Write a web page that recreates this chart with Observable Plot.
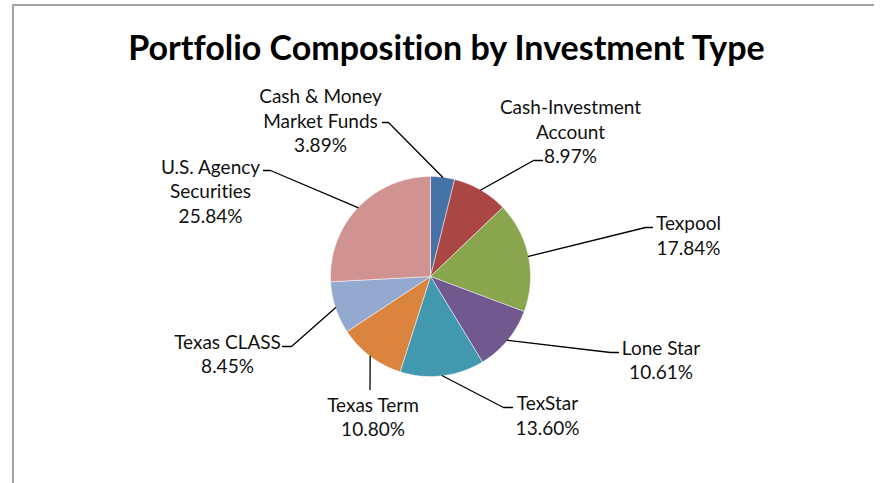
<!DOCTYPE html>
<html><head><meta charset="utf-8">
<script src="https://cdn.jsdelivr.net/npm/d3@7"></script>
<script src="https://cdn.jsdelivr.net/npm/@observablehq/plot@0.6"></script>
<style>
body{margin:0;background:#fff}
#wrap{position:relative;width:881px;height:483px;overflow:hidden;background:#fff}
#frame{position:absolute;left:12px;top:4px;width:860px;height:490px;border-top:2px solid #a3a3a3;border-left:2px solid #a3a3a3}
#wrap svg{position:absolute;left:0;top:0;font-variant-ligatures:none}
</style></head>
<body><div id="wrap"><div id="frame"></div></div>
<script>
const title = "Portfolio Composition by Investment Type";
const names = ["Cash & Money Market Funds","Cash-Investment Account","Texpool","Lone Star","TexStar","Texas Term","Texas CLASS","U.S. Agency Securities"];
const labelText = ["Cash & Money\nMarket Funds","Cash-Investment\nAccount","Texpool","Lone Star","TexStar","Texas Term","Texas CLASS","U.S. Agency\nSecurities"];
const shares = [3.89, 8.97, 17.84, 10.61, 13.60, 10.80, 8.45, 25.84];
const colors = ["#4572A7","#AA4643","#89A54E","#71588F","#4198AF","#DB843D","#93A9CF","#D19392"];
// label layout (pie units, radius = 100)
const labelX = [-110, 140, 258, 230.5, 117, -57.5, -203, -220];
const labelY = [156.5, 145.5, 42, -82.5, -138, -139.5, -76.5, 86];
const elbowX = [-42, 103, 215, 180, 73, -60.5, -139, -160];
const elbowY = [154, 116, 49, -76, -131, -113, -70, 106];
const endX   = [-48, 112, 222, 188, 82, -60.5, -148, -167];
const endY   = [154, 116, 49, -76, -131, -113, -70, 106];

const R = 100;
const arcs = d3.pie().sort(null).value(d => d)(shares);
const slices = [];
arcs.forEach((a, i) => {
  slices.push({name: names[i], x: 0, y: 0});
  const n = Math.max(2, Math.ceil((a.endAngle - a.startAngle) / 0.01));
  for (let k = 0; k <= n; k++) {
    const t = a.startAngle + (a.endAngle - a.startAngle) * k / n;
    slices.push({name: names[i], x: R * Math.sin(t), y: R * Math.cos(t)});
  }
  slices.push({name: names[i], x: 0, y: 0});
});
const leaders = [];
arcs.forEach((a, i) => {
  const m = (a.startAngle + a.endAngle) / 2;
  leaders.push({name: names[i], x: R * Math.sin(m), y: R * Math.cos(m)});
  leaders.push({name: names[i], x: elbowX[i], y: elbowY[i]});
  leaders.push({name: names[i], x: endX[i], y: endY[i]});
});
const labels = names.map((n, i) => ({
  name: n,
  text: labelText[i] + "\n" + shares[i].toFixed(2) + "%",
  x: labelX[i], y: labelY[i]
}));

const chart = Plot.plot({
  width: 881, height: 483, margin: 0,
  x: {domain: [-100, 100], range: [330, 530], axis: null},
  y: {domain: [-100, 100], range: [376, 176], axis: null},
  color: {domain: names, range: colors},
  style: {fontFamily: "Lato, sans-serif", background: "transparent", overflow: "visible"},
  marks: [
    Plot.line(slices, {x: "x", y: "y", z: "name", fill: "name", stroke: "white", strokeWidth: 0.8, strokeOpacity: 0.6}),
    Plot.line(leaders, {x: "x", y: "y", z: "name", stroke: "black", strokeWidth: 1.3}),
    Plot.text(labels, {x: "x", y: "y", text: "text", fill: "#111", fontSize: 19, lineHeight: 1.29, textAnchor: "middle", lineAnchor: "middle"}),
    Plot.text([title], {frameAnchor: "top", dx: 5.5, dy: 49, lineAnchor: "middle", fontSize: 34, fontWeight: "bold", fill: "black"})
  ]
});
document.getElementById("wrap").appendChild(chart);
</script>
</body></html>
